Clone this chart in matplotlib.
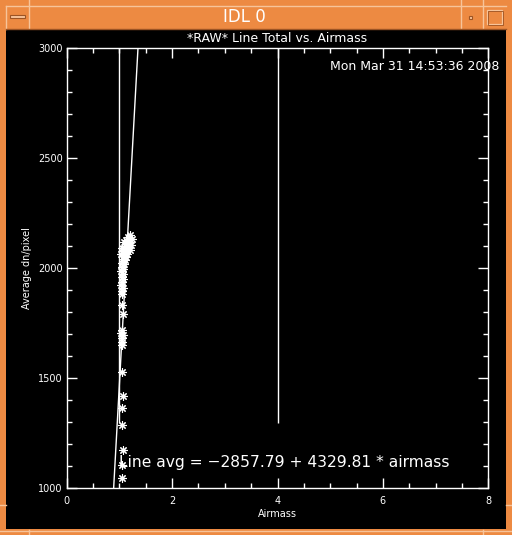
import matplotlib
matplotlib.use("Agg")
import matplotlib.pyplot as plt
from matplotlib.patches import Rectangle
from matplotlib.lines import Line2D
import numpy as np

# data
airmass = [1.20, 1.16, 1.23, 1.12, 1.19, 1.08, 1.14, 1.22, 1.10, 1.17,
           1.05, 1.13, 1.20, 1.07, 1.11, 1.15, 1.03, 1.09, 1.13, 1.06,
           1.10, 1.04, 1.08, 1.05, 1.07, 1.03, 1.06, 1.04, 1.07, 1.05,
           1.03, 1.06, 1.04, 1.05, 1.04, 1.06, 1.05, 1.03, 1.06, 1.04,
           1.05, 1.04, 1.04, 1.06, 1.04, 1.05, 1.06, 1.04, 1.05]
avg_dn = [2150, 2140, 2132, 2128, 2120, 2118, 2110, 2105, 2100, 2095,
          2092, 2085, 2080, 2078, 2070, 2065, 2062, 2055, 2048, 2040,
          2035, 2025, 2018, 2005, 1995, 1985, 1972, 1960, 1948, 1935,
          1922, 1910, 1895, 1880, 1832, 1791, 1720, 1705, 1695, 1680,
          1665, 1650, 1527, 1418, 1364, 1286, 1173, 1105, 1045]
fit_intercept = -2857.79
fit_slope = 4329.81
marker_x = [1.0, 4.0]
marker_bottom = 1295

title = "*RAW* Line Total vs. Airmass"
date_str = "Mon Mar 31 14:53:36 2008"

W, H = 512, 535
ORANGE = "#ED8A42"
LIGHT = "#F7C49A"
DARK = "#9C5424"

fig = plt.figure(figsize=(W / 100, H / 100), dpi=100, facecolor=ORANGE)


def px(x, y):
    # pixel (from top-left) -> figure fraction
    return x / W, 1 - y / H


def hline(x0, x1, y, c, lw=1.0):
    a, b = px(x0, y)
    c2, _ = px(x1, y)
    fig.add_artist(Line2D([a, c2], [b, b], color=c, lw=lw, transform=fig.transFigure))


def vline(x, y0, y1, c, lw=1.0):
    a, b = px(x, y0)
    _, d = px(x, y1)
    fig.add_artist(Line2D([a, a], [b, d], color=c, lw=lw, transform=fig.transFigure))


# window frame
x0, y0 = px(6, 529)
fig.add_artist(Rectangle((x0, y0), 500 / W, 500 / H, facecolor="black",
                         edgecolor="none", transform=fig.transFigure, zorder=-10))
hline(6, 506, 5.5, LIGHT)
vline(6, 5.5, 29, LIGHT)
for xx in [29, 461, 483]:
    vline(xx, 0, 28, LIGHT)
hline(6, 506, 28.5, DARK)
hline(0, 512, 530.5, LIGHT)
vline(29, 530, 535, LIGHT)
vline(483, 530, 535, LIGHT)
hline(0, 6, 505, LIGHT)
hline(506, 512, 505, LIGHT)

# title bar buttons
bx, by = px(10, 18)
fig.add_artist(Rectangle((bx, by), 15 / W, 3 / H, facecolor=LIGHT,
                         edgecolor=DARK, lw=0.8, transform=fig.transFigure))
bx, by = px(469, 19)
fig.add_artist(Rectangle((bx, by), 3 / W, 3 / H, facecolor=LIGHT,
                         edgecolor=DARK, lw=0.8, transform=fig.transFigure))
bx, by = px(487, 24)
fig.add_artist(Rectangle((bx, by), 15 / W, 14 / H, facecolor="none",
                         edgecolor=LIGHT, lw=0.9, transform=fig.transFigure))
bx, by = px(488, 25)
fig.add_artist(Rectangle((bx, by), 15 / W, 14 / H, facecolor="none",
                         edgecolor=DARK, lw=0.6, transform=fig.transFigure))

tx, ty = px(244, 17)
fig.text(tx, ty, "IDL 0", color="white", fontsize=12, ha="center", va="center")

# plot area
left, bottom = px(66.7, 488)
right, top = px(488.3, 48)
ax = fig.add_axes([left, bottom, right - left, top - bottom])
ax.set_facecolor("black")
ax.set_xlim(0, 8)
ax.set_ylim(1000, 3000)

ax.plot(airmass, avg_dn, linestyle="none", marker=(8, 2, 0), ms=6,
        mew=0.8, color="white", clip_on=True)

xfit = np.array([0, 8])
ax.plot(xfit, fit_intercept + fit_slope * xfit, color="white", lw=1.0)
ax.vlines(marker_x, marker_bottom, 3000, color="white", lw=1.0)

for s in ax.spines.values():
    s.set_color("white")
    s.set_linewidth(1.0)

ax.set_xticks([0, 2, 4, 6, 8])
ax.set_xticks(np.arange(0, 8.01, 0.5), minor=True)
ax.set_yticks([1000, 1500, 2000, 2500, 3000])
ax.set_yticks(np.arange(1000, 3001, 100), minor=True)
ax.tick_params(which="both", direction="in", colors="white", labelsize=7,
               top=True, right=True, width=1.0)
ax.tick_params(which="major", length=7)
ax.tick_params(which="minor", length=3.5)
ax.tick_params(axis="x", pad=6)
ax.tick_params(axis="y", pad=3)

ax.set_xlabel("Airmass", color="white", fontsize=7, labelpad=2)
ax.set_ylabel("Average dn/pixel", color="white", fontsize=7, labelpad=4)

ax.text(1.0, 1118, "Line avg = \u22122857.79 + 4329.81 * airmass",
        color="white", fontsize=11.2, ha="left", va="center")

tx, ty = px(277.5, 38)
fig.text(tx, ty, title, color="white", fontsize=9, ha="center", va="center")
tx, ty = px(330, 67)
fig.text(tx, ty, date_str, color="white", fontsize=9, ha="left", va="center")

fig.savefig("out.png", dpi=100, facecolor=ORANGE)
